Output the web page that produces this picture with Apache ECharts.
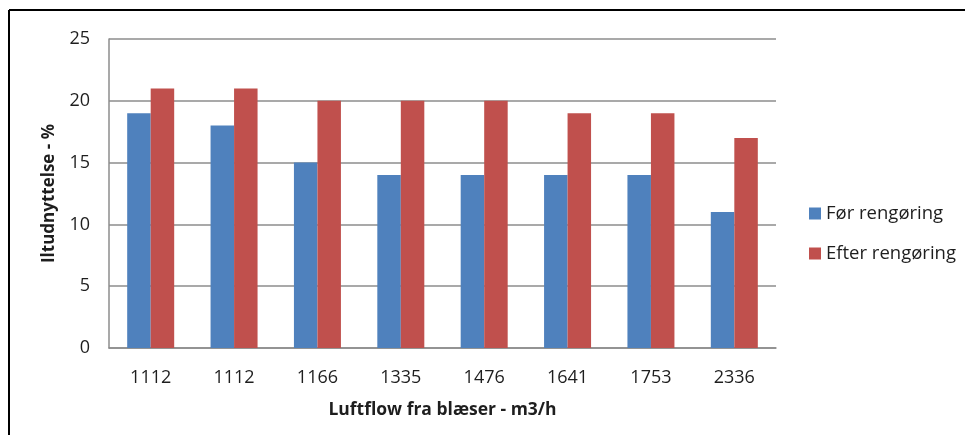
<!DOCTYPE html>
<html>
<head>
<meta charset="utf-8">
<script src="https://cdn.jsdelivr.net/npm/echarts@6/dist/echarts.min.js"></script>
<style>
  html, body { margin: 0; padding: 0; background: #fff; }
  #chart { width: 965px; height: 435px; }
</style>
</head>
<body>
<div id="chart"></div>
<script>
// Airflow from the blower (m3/h) for each measurement
const categories = ['1112', '1112', '1166', '1335', '1476', '1641', '1753', '2336'];
// Utilisation (%) before and after cleaning
const beforeCleaning = [19, 18, 15, 14, 14, 14, 14, 11];
const afterCleaning = [21, 21, 20, 20, 20, 19, 19, 17];
const yTicks = { min: 0, max: 25, interval: 5 };

const FONT = '"Open Sans", Lato, sans-serif';
const TEXT = '#1e1e1e';
const chart = echarts.init(document.getElementById('chart'), null, { renderer: 'canvas' });

chart.setOption({
  backgroundColor: '#ffffff',
  animation: false,
  textStyle: { fontFamily: FONT },
  graphic: [
    // frame around the chart (top and left edges)
    { type: 'line', shape: { x1: 9, y1: 10, x2: 965, y2: 10 }, style: { stroke: '#000', lineWidth: 2 } },
    { type: 'line', shape: { x1: 9, y1: 10, x2: 9, y2: 435 }, style: { stroke: '#000', lineWidth: 2 } }
  ],
  grid: { left: 109, right: 189, top: 39, bottom: 87 },
  legend: {
    orient: 'vertical',
    left: 804,
    top: 199,
    itemWidth: 12,
    itemHeight: 12,
    itemGap: 21,
    icon: 'rect',
    textStyle: { fontFamily: FONT, fontSize: 18.5, color: TEXT },
    data: ['Før rengøring', 'Efter rengøring']
  },
  xAxis: {
    type: 'category',
    data: categories,
    name: 'Luftflow fra blæser - m3/h',
    nameLocation: 'middle',
    nameGap: 53,
    nameTextStyle: { fontFamily: FONT, fontSize: 17.5, fontWeight: 'bold', color: TEXT },
    axisLine: { lineStyle: { color: '#8c8c8c', width: 1.5 } },
    axisTick: { show: false },
    axisLabel: { margin: 21, fontSize: 18, color: TEXT, fontFamily: FONT }
  },
  yAxis: {
    type: 'value',
    min: yTicks.min,
    max: yTicks.max,
    interval: yTicks.interval,
    name: 'Iltudnyttelse - %',
    nameLocation: 'middle',
    nameGap: 51,
    nameRotate: 90,
    nameTextStyle: { fontFamily: FONT, fontSize: 17, fontWeight: 'bold', color: TEXT },
    axisLine: { show: true, lineStyle: { color: '#8c8c8c', width: 1.5 } },
    axisTick: { show: false },
    axisLabel: { margin: 19, fontSize: 18, color: TEXT, fontFamily: FONT },
    splitLine: { lineStyle: { color: '#8c8c8c', width: 1.5 } }
  },
  series: [
    {
      name: 'Før rengøring',
      type: 'bar',
      data: beforeCleaning,
      barWidth: 23.5,
      barGap: '0%',
      itemStyle: { color: '#4F81BD' }
    },
    {
      name: 'Efter rengøring',
      type: 'bar',
      data: afterCleaning,
      barWidth: 23.5,
      barGap: '0%',
      itemStyle: { color: '#C0504D' }
    }
  ]
});
</script>
</body>
</html>
